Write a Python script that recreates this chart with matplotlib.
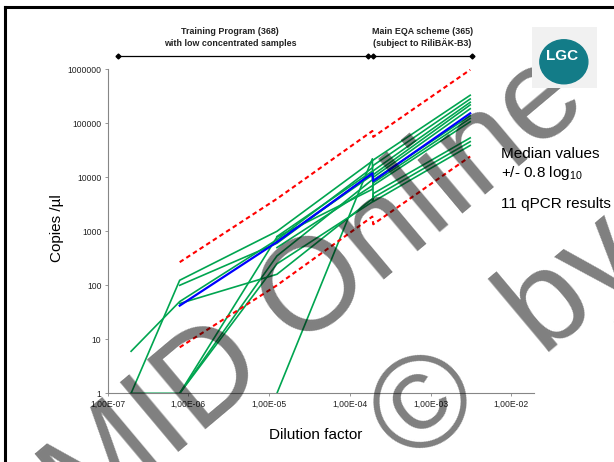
import matplotlib
matplotlib.use("Agg")
import matplotlib.pyplot as plt
import numpy as np
from matplotlib.lines import Line2D
from matplotlib.patches import Ellipse
from matplotlib.ticker import NullLocator

plt.rcParams['font.family'] = ['Liberation Sans', 'DejaVu Sans']
plt.rcParams['mathtext.fontset'] = 'custom'
plt.rcParams['mathtext.rm'] = 'Liberation Sans'

nan = np.nan

# --------- DATA ---------
# dilution steps: training program, then main EQA scheme
dil_training = [1.95e-7, 7.8e-7, 1.25e-5, 1.9e-4]
dil_main = [1.95e-4, 3.1e-3]

# 11 qPCR results, copies/ul
lab_training = [
    [1, 124, 1000, 20000],
    [1, 1, 350, 9000],
    [6, 50, 700, 15000],
    [nan, 100, 600, 12000],
    [nan, 46, 160, 4000],
    [nan, 1, 780, 6000],
    [nan, 1, 250, 3500],
    [nan, nan, 1, 22000],
    [nan, nan, 800, 13000],
    [nan, nan, 500, 7000],
    [nan, nan, 650, 11000],
]
lab_main = [
    [20900, 331000],
    [13200, 245000],
    [16600, 282000],
    [11200, 219000],
    [4200, 45700],
    [7900, 123000],
    [5000, 53700],
    [3550, 38900],
    [10000, 186000],
    [7100, 107000],
    [8900, 138000],
]

median_training = [nan, 42, 632, 11860]
median_main = [8520, 153000]
upper_training = [nan, 268, 4000, 72000]
upper_main = [56000, 980000]
lower_training = [nan, 7.1, 100, 1870]
lower_main = [1350, 24300]

x_ticks = [1e-7, 1e-6, 1e-5, 1e-4, 1e-3, 1e-2]
x_tick_labels = ['1,00E-07', '1,00E-06', '1,00E-05', '1,00E-04', '1,00E-03', '1,00E-02']
y_ticks = [1, 10, 100, 1000, 10000, 100000, 1000000]
y_tick_labels = ['1', '10', '100', '1000', '10000', '100000', '1000000']

# --------- PLOT ---------
fig = plt.figure(figsize=(6.14, 4.62), dpi=100, facecolor='white')
ax = fig.add_axes([0.1754, 0.1487, 0.6948, 0.7013])

x_all = dil_training + dil_main
for tr, mn in zip(lab_training, lab_main):
    ax.plot(x_all, tr + mn, color='#00a550', lw=1.2, zorder=2)
ax.plot(x_all, median_training + median_main, color='#0000ff', lw=1.6, zorder=3)
for band in [upper_training + upper_main, lower_training + lower_main]:
    ax.plot(x_all, band, color='#ff0000', lw=1.5, ls=(0, (2.2, 1.6)), zorder=3)

ax.set_xscale('log')
ax.set_yscale('log')
ax.set_xlim(1e-7, 0.0193)
ax.set_ylim(1, 1e6)
ax.set_xticks(x_ticks)
ax.set_xticklabels(x_tick_labels)
ax.set_yticks(y_ticks)
ax.set_yticklabels(y_tick_labels)
ax.xaxis.set_minor_locator(NullLocator())
ax.yaxis.set_minor_locator(NullLocator())
for s in ['top', 'right']:
    ax.spines[s].set_visible(False)
for s in ['left', 'bottom']:
    ax.spines[s].set_color('#868686')
    ax.spines[s].set_linewidth(0.8)
ax.tick_params(labelsize=6.2, colors='#868686', labelcolor='#222222', length=2.5, width=0.6, pad=2)

# axis titles
fig.text(315.7/614, 1-435/462, 'Dilution factor', fontsize=11, ha='center', va='center')
fig.text(57/614, 1-228/462, 'Copies /µl', fontsize=11, ha='center', va='center', rotation=90)

# brackets for the two schemes
for x0, x1 in [(0.025, 0.611), (0.6226, 0.8547)]:
    ax.add_line(Line2D([x0, x1], [1.041, 1.041], transform=ax.transAxes, color='black', lw=0.9,
                       marker='D', markersize=2.5, clip_on=False))
ax.text(0.287, 1.098, 'Training Program (368)\nwith low concentrated samples', transform=ax.transAxes,
        ha='center', va='center', fontsize=6.4, fontweight='bold', linespacing=1.3, color='#222222')
ax.text(0.737, 1.098, 'Main EQA scheme (365)\n(subject to RiliBÄK-B3)', transform=ax.transAxes,
        ha='center', va='center', fontsize=6.4, fontweight='bold', linespacing=1.3, color='#222222')

# side notes (drawn above the watermark)
fig.text(501/614, 1-158/462, 'Median values', fontsize=11, va='baseline', zorder=20)
fig.text(501/614, 1-177/462, '+/- 0.8 log$_{10}$', fontsize=11, va='baseline', zorder=20)
fig.text(501/614, 1-208/462, '11 qPCR results', fontsize=11, va='baseline', zorder=20)

# LGC logo, pasted on top
lax = fig.add_axes([532/614, 1-88/462, 65/614, 61/462])
lax.set_zorder(30)
lax.set_facecolor('#f1f1f1')
lax.set_xticks([])
lax.set_yticks([])
for s in lax.spines.values():
    s.set_visible(False)
lax.add_patch(Ellipse((0.49, 0.43), 48/65, 44/61, color='#137c88'))
lax.text(0.47, 0.52, 'LGC', color='white', fontsize=11, fontweight='bold', ha='center', va='center')

# outer frame
fig.add_artist(Line2D([4.7/614, 1], [1-7.3/462, 1-7.3/462], color='black', lw=2.2))
fig.add_artist(Line2D([4.7/614, 4.7/614], [0, 1-7.3/462], color='black', lw=2.2))

# watermark
fig.text(85/614, 1-530/462, 'MID Online', rotation=40, rotation_mode='anchor', ha='left', va='baseline',
         fontsize=95, color='black', alpha=0.5, zorder=10)
fig.text(413/614, 1-467/462, '©  by', rotation=40, rotation_mode='anchor', ha='left', va='baseline',
         fontsize=95, color='black', alpha=0.5, zorder=10)

fig.savefig('out.png', dpi=100)
